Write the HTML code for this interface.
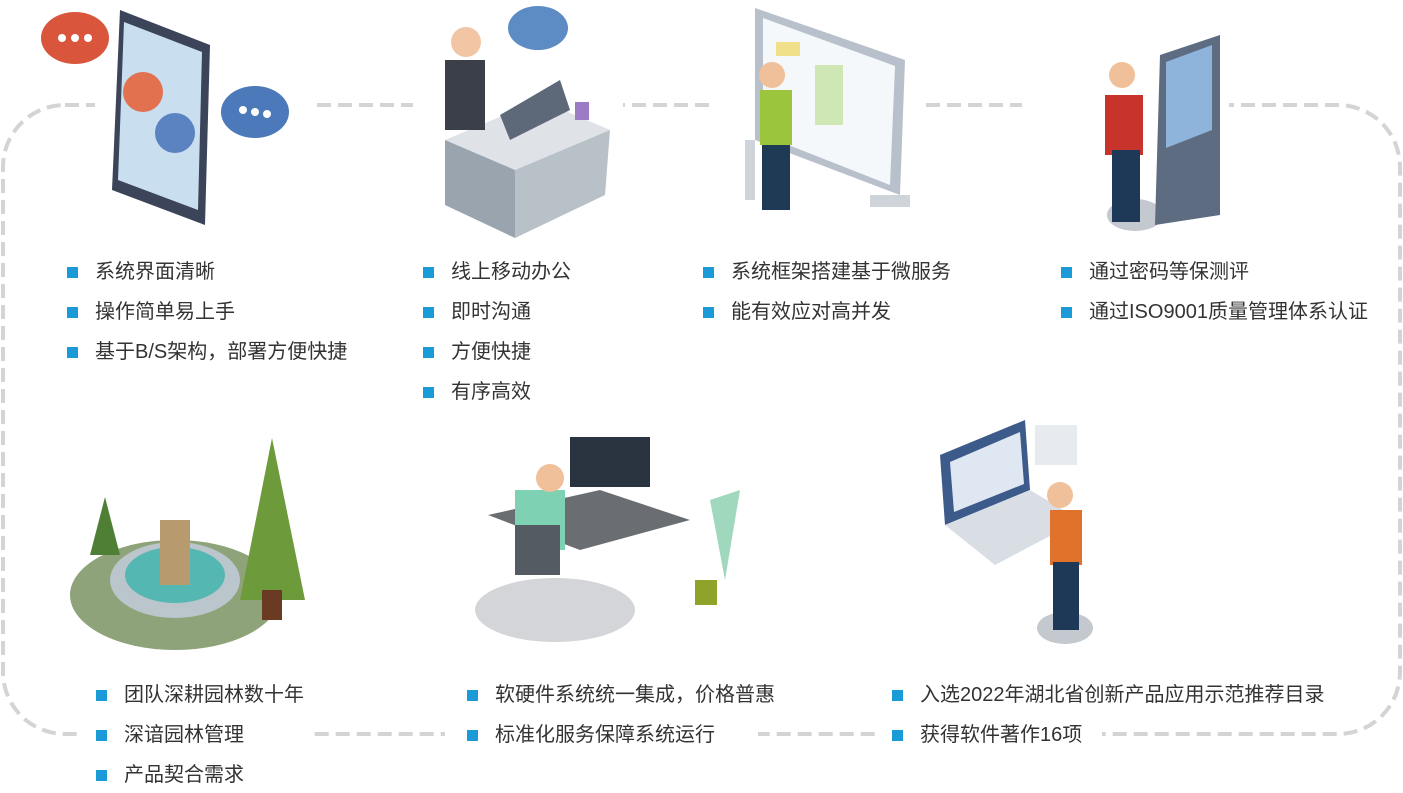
<!DOCTYPE html>
<html><head><meta charset="utf-8"><style>
html,body{margin:0;padding:0;background:#fff;}
body{width:1403px;height:793px;position:relative;overflow:hidden;font-family:"Liberation Sans","Noto Sans CJK SC",sans-serif;}
.li{position:absolute;font-size:20px;color:#333;line-height:24px;white-space:nowrap;}
.li:before{content:"";position:absolute;left:-28px;top:7px;width:11px;height:11px;background:#1b9ad8;}
svg{position:absolute;left:0;top:0;}
</style></head><body>
<svg width="1403" height="793">
<rect x="3" y="105" width="1397" height="629" rx="62" fill="none" stroke="#d4d4d4" stroke-width="4" stroke-dasharray="14 7"/>
<g fill="#fff">
<rect x="95" y="95" width="222" height="20"/><rect x="413" y="95" width="210" height="20"/>
<rect x="712" y="95" width="212" height="20"/><rect x="1022" y="95" width="207" height="20"/>
<rect x="78" y="724" width="230" height="20"/><rect x="445" y="724" width="313" height="20"/>
<rect x="880" y="724" width="222" height="20"/>
</g>
<g>
<ellipse cx="75" cy="38" rx="34" ry="26" fill="#d9553c"/><circle cx="62" cy="38" r="4" fill="#fff"/><circle cx="75" cy="38" r="4" fill="#fff"/><circle cx="88" cy="38" r="4" fill="#fff"/>
<polygon points="120,10 210,45 205,225 112,190" fill="#3c4459"/>
<polygon points="124,22 202,52 198,210 118,180" fill="#c9dff0"/>
<circle cx="143" cy="92" r="20" fill="#e2714f"/><circle cx="175" cy="133" r="20" fill="#5b83c1"/>
<ellipse cx="255" cy="112" rx="34" ry="26" fill="#4b79b9"/><circle cx="243" cy="110" r="4" fill="#fff"/><circle cx="255" cy="112" r="4" fill="#fff"/><circle cx="267" cy="114" r="4" fill="#fff"/>
</g>
<g>
<ellipse cx="538" cy="28" rx="30" ry="22" fill="#5d8cc4"/>
<polygon points="445,140 540,100 610,130 515,170" fill="#dfe3e8"/>
<polygon points="445,140 515,170 515,238 445,205" fill="#9aa4ae"/>
<polygon points="515,170 610,130 605,195 515,238" fill="#b8c0c8"/>
<rect x="445" y="60" width="40" height="70" fill="#3b3f4a"/><circle cx="466" cy="42" r="15" fill="#f2c6a5"/>
<polygon points="500,115 560,80 570,110 510,140" fill="#5d6878"/>
<rect x="575" y="102" width="14" height="18" fill="#9b7bc4"/>
</g>
<g>
<polygon points="755,8 905,60 900,195 755,140" fill="#b8c0cc"/>
<polygon points="763,18 895,66 890,185 763,135" fill="#f4f8fa"/>
<rect x="776" y="42" width="24" height="14" fill="#f0e08a"/><rect x="815" y="65" width="28" height="60" fill="#cfe6b5"/>
<rect x="745" y="140" width="10" height="60" fill="#cfd4da"/><rect x="870" y="195" width="40" height="12" fill="#cfd4da"/>
<rect x="760" y="90" width="32" height="55" fill="#9bc53c"/><circle cx="772" cy="75" r="13" fill="#f0c09a"/>
<rect x="762" y="145" width="28" height="65" fill="#1f3a55"/>
</g>
<g>
<ellipse cx="1135" cy="215" rx="28" ry="16" fill="#c3c9cf"/>
<polygon points="1160,55 1220,35 1220,215 1155,225" fill="#5d6c80"/>
<polygon points="1166,62 1212,45 1212,130 1166,148" fill="#8fb4dc"/>
<rect x="1105" y="95" width="38" height="60" fill="#c8332c"/><circle cx="1122" cy="75" r="13" fill="#f0c09a"/>
<rect x="1112" y="150" width="28" height="72" fill="#1d3957"/>
</g>
<g>
<ellipse cx="175" cy="595" rx="105" ry="55" fill="#8fa37a"/>
<ellipse cx="175" cy="580" rx="65" ry="38" fill="#bac5cc"/>
<ellipse cx="175" cy="575" rx="50" ry="28" fill="#55b7b2"/>
<rect x="160" y="520" width="30" height="65" fill="#b79b6e"/>
<polygon points="272,438 240,600 305,600" fill="#6d9a3a"/><rect x="262" y="590" width="20" height="30" fill="#6b3a22"/>
<polygon points="105,497 90,555 120,555" fill="#4e7f34"/>
</g>
<g>
<ellipse cx="555" cy="610" rx="80" ry="32" fill="#d3d5d8"/>
<polygon points="488,515 600,490 690,520 580,550" fill="#6a6d72"/>
<rect x="570" y="437" width="80" height="50" fill="#2a3340"/>
<rect x="515" y="490" width="50" height="60" fill="#7fd1b4"/><circle cx="550" cy="478" r="14" fill="#f0c09a"/>
<rect x="515" y="525" width="45" height="50" fill="#555b63"/>
<polygon points="710,500 740,490 725,580" fill="#9fd8bc"/><rect x="695" y="580" width="22" height="25" fill="#8fa22a"/>
</g>
<g>
<polygon points="940,455 1025,420 1030,490 945,525" fill="#3c5a8a"/>
<polygon points="950,462 1020,432 1024,484 954,512" fill="#dfe8f2"/>
<polygon points="945,525 1030,490 1080,520 995,565" fill="#d9dee5"/>
<rect x="1035" y="425" width="42" height="40" fill="#e7ebf0"/>
<ellipse cx="1065" cy="628" rx="28" ry="16" fill="#c3c9cf"/>
<rect x="1050" y="510" width="32" height="55" fill="#e0722c"/><circle cx="1060" cy="495" r="13" fill="#f0c09a"/>
<rect x="1053" y="562" width="26" height="68" fill="#1d3957"/>
</g>
</svg>
<div class="li" style="left:95px;top:260px">系统界面清晰</div>
<div class="li" style="left:95px;top:300px">操作简单易上手</div>
<div class="li" style="left:95px;top:340px">基于B/S架构，部署方便快捷</div>
<div class="li" style="left:451px;top:260px">线上移动办公</div>
<div class="li" style="left:451px;top:300px">即时沟通</div>
<div class="li" style="left:451px;top:340px">方便快捷</div>
<div class="li" style="left:451px;top:380px">有序高效</div>
<div class="li" style="left:731px;top:260px">系统框架搭建基于微服务</div>
<div class="li" style="left:731px;top:300px">能有效应对高并发</div>
<div class="li" style="left:1089px;top:260px">通过密码等保测评</div>
<div class="li" style="left:1089px;top:300px">通过ISO9001质量管理体系认证</div>
<div class="li" style="left:124px;top:683px">团队深耕园林数十年</div>
<div class="li" style="left:124px;top:723px">深谙园林管理</div>
<div class="li" style="left:124px;top:763px">产品契合需求</div>
<div class="li" style="left:495px;top:683px">软硬件系统统一集成，价格普惠</div>
<div class="li" style="left:495px;top:723px">标准化服务保障系统运行</div>
<div class="li" style="left:920px;top:683px">入选2022年湖北省创新产品应用示范推荐目录</div>
<div class="li" style="left:920px;top:723px">获得软件著作16项</div>
</body></html>
